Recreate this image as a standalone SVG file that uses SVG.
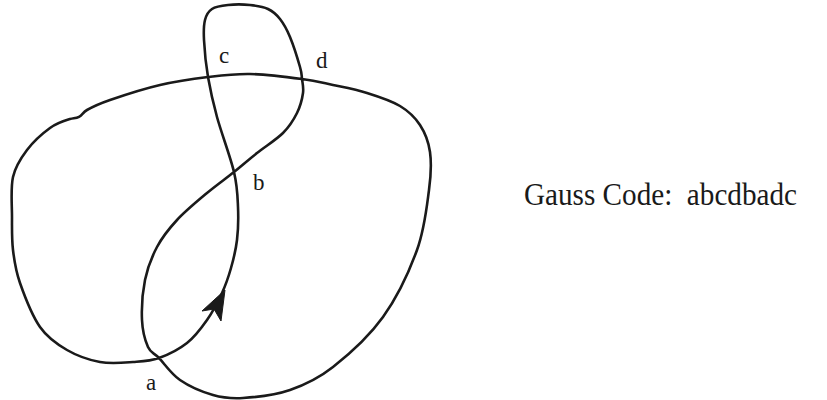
<svg xmlns="http://www.w3.org/2000/svg" width="827" height="400" viewBox="0 0 827 400">
<style>
.curve{fill:none;stroke:#1a1a1a;stroke-width:2.6;stroke-linejoin:round;stroke-linecap:round}
.lbl{font-family:"Liberation Serif","Times New Roman",serif;font-size:23px;fill:#1a1a1a}
.code{font-family:"Liberation Serif","Times New Roman",serif;font-size:31px;fill:#1a1a1a;white-space:pre}
</style>
<rect width="827" height="400" fill="#ffffff"/>
<g id="knot">
<path class="curve" d="M159,358 C168,354.8 179,349.3 187,343 C195,336.7 201.2,328.3 207,320 C212.8,311.7 218,301.7 222,293 C226,284.3 228.5,276.8 231,268 C233.5,259.2 235.8,250.2 237,240 C238.2,229.8 238.5,218.3 238,207 C237.5,195.7 237.5,187 234,172 C230.5,157 221.3,132.8 217,117 C212.7,101.2 210.2,89.8 208,77 C205.8,64.2 204.5,49.5 204,40 C203.5,30.5 203.7,25.2 205,20 C206.3,14.8 208.2,11.5 212,9 C215.8,6.5 221.7,5.7 228,5 C234.3,4.3 243.3,4.3 250,5 C256.7,5.7 263,6.7 268,9 C273,11.3 276.3,14.3 280,19 C283.7,23.7 286.7,29 290,37 C293.3,45 298,60 300,67 C302,74 301.5,74.7 302,79 C302.5,83.3 303.8,87.3 303,93 C302.2,98.7 300.3,106.3 297,113 C293.7,119.7 289.7,126.3 283,133 C276.3,139.7 265.2,146.5 257,153 C248.8,159.5 242.3,165.3 234,172 C225.7,178.7 216.5,185 207,193 C197.5,201 185.3,211 177,220 C168.7,229 162.3,237 157,247 C151.7,257 147.5,267.8 145,280 C142.5,292.2 141.5,308.8 142,320 C142.5,331.2 145.2,340.7 148,347 C150.8,353.3 153.7,352.5 159,358 C164.3,363.5 171,373.8 180,380 C189,386.2 202.5,392 213,395 C223.5,398 230.2,398.8 243,398 C255.8,397.2 275,395.2 290,390 C305,384.8 317.5,379.2 333,367 C348.5,354.8 369,336.5 383,317 C397,297.5 409.3,271.2 417,250 C424.7,228.8 426.8,206.3 429,190 C431.2,173.7 431.5,162.8 430,152 C428.5,141.2 425,132.7 420,125 C415,117.3 408.8,111.3 400,106 C391.2,100.7 378.2,96.5 367,93 C355.8,89.5 343.8,87.3 333,85 C322.2,82.7 315.8,80.8 302,79 C288.2,77.2 265.7,74.3 250,74 C234.3,73.7 223,75.2 208,77 C193,78.8 176.3,81.2 160,85 C143.7,88.8 122.2,95.8 110,100 C97.8,104.2 92,107.2 87,110 C82.5,112.6 82.5,115 79,116.8 C76,118.3 74,118 70,119 C65,120.5 57.2,122.8 50,128 C42.8,133.2 33.2,141.8 27,150 C20.8,158.2 15.5,165.8 13,177 C10.5,188.2 12,204.8 12,217 C12,229.2 11.7,239 13,250 C14.3,261 15.5,270.2 20,283 C24.5,295.8 32.2,315.8 40,327 C47.8,338.2 57,344.2 67,350 C77,355.8 89,360 100,362 C111,364 123.2,362.7 133,362 C142.8,361.3 150,361.2 159,358 Z"/>
</g>
<g id="arrowhead">
<polygon points="225,290 202,311 214,309 221,321" fill="#1a1a1a" stroke="#1a1a1a" stroke-width="1" stroke-linejoin="miter"/>
</g>
<g id="labels">
<text class="lbl" x="219" y="63">c</text>
<text class="lbl" x="316" y="68">d</text>
<text class="lbl" x="253" y="190">b</text>
<text class="lbl" x="146" y="390">a</text>
</g>
<g id="gauss-code">
<text class="code" x="524" y="205" textLength="273" lengthAdjust="spacingAndGlyphs">Gauss Code:  abcdbadc</text>
</g>
</svg>
